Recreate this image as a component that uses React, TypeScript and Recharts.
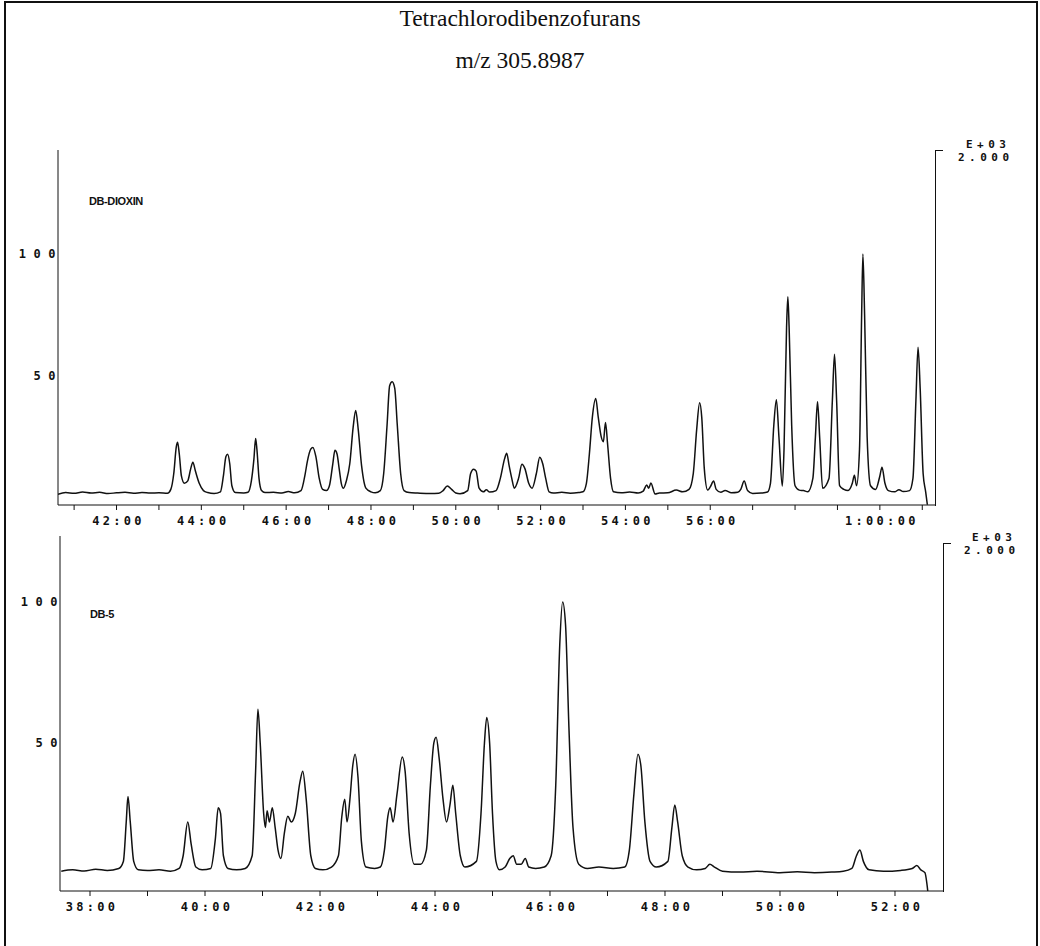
import { LineChart, Line, XAxis, YAxis } from 'recharts'

// retention time (min) / relative intensity
const dbDioxinTrace: [number, number][] = [
  [40.62, 1.5], [40.8, 2.2], [41.0, 1.9], [41.2, 2.4], [41.4, 2.0], [41.6, 2.3], [41.8, 1.8], [42.0, 2.1],
  [42.2, 2.3], [42.4, 1.9], [42.6, 2.2], [42.8, 2.0], [43.0, 2.1], [43.2, 1.9],
  [43.28, 3.5], [43.35, 10], [43.41, 21], [43.44, 22.8], [43.48, 18], [43.53, 9], [43.6, 6], [43.68, 7],
  [43.75, 12], [43.8, 14.6], [43.86, 11], [43.95, 6], [44.05, 3], [44.15, 2.2],
  [44.3, 1.8], [44.45, 2.5], [44.52, 9], [44.58, 17], [44.62, 17.9], [44.67, 14], [44.72, 5], [44.8, 2.2], [45.0, 2.0],
  [45.1, 2.3], [45.18, 7], [45.24, 16], [45.28, 24.4], [45.31, 20], [45.36, 8], [45.42, 3], [45.5, 2.2],
  [45.7, 2.3], [45.9, 2.0], [46.05, 2.6], [46.2, 2.1],
  [46.35, 3], [46.45, 10], [46.5, 15], [46.58, 20], [46.63, 20.7], [46.7, 17], [46.78, 8], [46.86, 3.5], [46.95, 3],
  [47.02, 5], [47.1, 14], [47.15, 19.5], [47.2, 18], [47.25, 12], [47.3, 6], [47.35, 4],
  [47.42, 7], [47.5, 14], [47.58, 29], [47.64, 35.8], [47.7, 28], [47.78, 13], [47.88, 4], [48.0, 2.5], [48.1, 2.1],
  [48.22, 3], [48.3, 10], [48.38, 30], [48.44, 46], [48.5, 47.6], [48.56, 45], [48.62, 30], [48.7, 10], [48.78, 3], [48.9, 2.2],
  [49.1, 2.0], [49.4, 1.8], [49.6, 1.9], [49.7, 3], [49.8, 4.9], [49.9, 3.5], [50.0, 2], [50.1, 1.7],
  [50.28, 3], [50.35, 10], [50.42, 11.8], [50.48, 11], [50.55, 4], [50.65, 2.5], [50.72, 3.3], [50.8, 2.4],
  [50.95, 3], [51.05, 8], [51.15, 16], [51.2, 18.3], [51.26, 13], [51.32, 8], [51.38, 4],
  [51.48, 8], [51.56, 13.8], [51.63, 12], [51.72, 6], [51.8, 4],
  [51.9, 10], [51.98, 16.7], [52.05, 14], [52.12, 8], [52.2, 2.5],
  [52.3, 2.0], [52.5, 2.3], [52.7, 1.9], [52.9, 2.2], [53.0, 2.5],
  [53.08, 6], [53.15, 18], [53.22, 33], [53.3, 40.7], [53.36, 33], [53.43, 25], [53.48, 23], [53.53, 30.9],
  [53.58, 22], [53.65, 8], [53.72, 2.5],
  [53.9, 2.1], [54.1, 2.4], [54.3, 2.0], [54.42, 2.8], [54.5, 5.3], [54.55, 4], [54.6, 6.1], [54.7, 1.6],
  [54.8, 2.0], [55.0, 2.1], [55.2, 3.2], [55.35, 2.5],
  [55.5, 3.5], [55.6, 10], [55.68, 28], [55.75, 39], [55.8, 33], [55.86, 12], [55.94, 3.2], [56.0, 4.5],
  [56.08, 6.9], [56.14, 3.5], [56.25, 2.3], [56.35, 3], [56.5, 2.1], [56.65, 2.3],
  [56.72, 3.5], [56.8, 6.9], [56.88, 3], [57.0, 1.8], [57.2, 2.0], [57.35, 2.4],
  [57.42, 6], [57.5, 30], [57.56, 40.2], [57.62, 25], [57.7, 4.9], [57.74, 20], [57.8, 70], [57.83, 82.5],
  [57.86, 70], [57.92, 30], [58.0, 5], [58.1, 3.2],
  [58.2, 3], [58.3, 2.5], [58.42, 8], [58.48, 25], [58.53, 39.4], [58.58, 25], [58.65, 4],
  [58.8, 8], [58.88, 40], [58.93, 58.9], [58.98, 40], [59.05, 5], [59.15, 3.5], [59.25, 3], [59.35, 6],
  [59.4, 9.3], [59.45, 5],
  [59.52, 20], [59.57, 75], [59.6, 100], [59.64, 75], [59.7, 25], [59.78, 5],
  [59.9, 3.5], [60.0, 9], [60.05, 12.6], [60.12, 6], [60.2, 3], [60.35, 2.5], [60.45, 3.4], [60.55, 2.6], [60.7, 3],
  [60.78, 8], [60.85, 40], [60.9, 61.8], [60.95, 45], [61.02, 10], [61.08, 2.5], [61.12, -2.8],
]

const db5Trace: [number, number][] = [
  [37.5, 4.5], [37.7, 5], [37.9, 4.6], [38.1, 5.2], [38.3, 4.8], [38.5, 5.5],
  [38.58, 8], [38.63, 22], [38.66, 31], [38.7, 22], [38.76, 8], [38.84, 5],
  [39.0, 4.8], [39.2, 5], [39.4, 4.5], [39.55, 5.5],
  [39.62, 10], [39.7, 22], [39.76, 14], [39.84, 6], [39.95, 5],
  [40.1, 5.5], [40.18, 16], [40.23, 27], [40.27, 25], [40.32, 10], [40.4, 5.5], [40.55, 5], [40.7, 5.5],
  [40.82, 10], [40.88, 40], [40.92, 62], [40.96, 50], [41.02, 25], [41.05, 20], [41.08, 26], [41.12, 22],
  [41.17, 27], [41.22, 20], [41.27, 12], [41.32, 9], [41.38, 18], [41.44, 24], [41.5, 22], [41.57, 25],
  [41.65, 36], [41.7, 40], [41.76, 30], [41.84, 10], [41.92, 5.5],
  [42.05, 5], [42.2, 6],
  [42.32, 10], [42.38, 24], [42.43, 30], [42.47, 22], [42.52, 30], [42.57, 42], [42.61, 46], [42.66, 38],
  [42.72, 15], [42.8, 6],
  [42.95, 5.5], [43.05, 6],
  [43.12, 12], [43.18, 24], [43.22, 27], [43.27, 22], [43.34, 32], [43.43, 45], [43.48, 40], [43.55, 18], [43.64, 7],
  [43.75, 7],
  [43.85, 12], [43.92, 35], [43.98, 50], [44.02, 52], [44.07, 45], [44.14, 30], [44.2, 22], [44.26, 28],
  [44.31, 35], [44.36, 25], [44.44, 10], [44.52, 6],
  [44.72, 8], [44.8, 25], [44.86, 50], [44.9, 59], [44.95, 50], [45.0, 25], [45.06, 8], [45.12, 5],
  [45.22, 6], [45.3, 9], [45.36, 10], [45.42, 7], [45.5, 7], [45.57, 9], [45.63, 6], [45.75, 5.5], [45.9, 6],
  [46.02, 10], [46.1, 35], [46.17, 85], [46.22, 100], [46.27, 92], [46.33, 55], [46.4, 20], [46.5, 7],
  [46.65, 5.5], [46.85, 6], [47.1, 5.5], [47.3, 6],
  [47.38, 12], [47.46, 32], [47.53, 46], [47.58, 42], [47.65, 22], [47.74, 8], [47.85, 6],
  [48.05, 8], [48.12, 20], [48.17, 28], [48.22, 22], [48.3, 10], [48.4, 6],
  [48.55, 5], [48.7, 5.5], [48.78, 7], [48.86, 6], [49.0, 4.5], [49.3, 4.2], [49.6, 4.5], [50.0, 4],
  [50.3, 4.3], [50.6, 4], [50.9, 4.2], [51.1, 4.5], [51.25, 5.5],
  [51.33, 10], [51.39, 12], [51.45, 8], [51.55, 5],
  [51.8, 4.5], [52.1, 4.8], [52.3, 5.5], [52.38, 6.5], [52.45, 5], [52.52, 4], [52.57, -2.5],
]

const topTicks = [41, 42, 43, 44, 45, 46, 47, 48, 49, 50, 51, 52, 53, 54, 55, 56, 57, 58, 59, 60, 61]
const topLabeled = [42, 44, 46, 48, 50, 52, 54, 56, 60]
const bottomTicks = [38, 39, 40, 41, 42, 43, 44, 45, 46, 47, 48, 49, 50, 51, 52]
const bottomLabeled = [38, 40, 42, 44, 46, 48, 50, 52]
const yTicks = [50, 100]

const toData = (trace: [number, number][]) => trace.map(([t, v]) => ({ t, v }))

const fmtTime = (m: number) =>
  m >= 60 ? `${Math.floor(m / 60)}:${String(m % 60).padStart(2, '0')}:00` : `${m}:00`

const plotterFont = { fontFamily: 'DejaVu Sans Mono', fontWeight: 700, fontSize: 12, fill: '#111' }

const makeXTick = (labeled: number[]) => (props: any) => {
  const { x, y, payload } = props
  if (!labeled.includes(payload.value)) return <g />
  return (
    <text x={x + 2} y={y + 13} textAnchor="middle" style={{ ...plotterFont, letterSpacing: 3.3 }}>
      {fmtTime(payload.value)}
    </text>
  )
}

const YTick = (props: any) => {
  const { x, y, payload } = props
  return (
    <text x={x + 5} y={y + 4} textAnchor="end" style={{ ...plotterFont, letterSpacing: 7.5 }}>
      {payload.value}
    </text>
  )
}

function ScaleNote({ left, top }: { left: number; top: number }) {
  const row = { height: 12, lineHeight: '12px', letterSpacing: 4.5, fontSize: 11 }
  return (
    <div style={{ position: 'absolute', left, top, ...plotterFont, color: '#111' }}>
      <div style={{ ...row, paddingLeft: 22 }}>E+03</div>
      <div style={{ ...row, paddingLeft: 14, marginTop: 1 }}>2.000</div>
    </div>
  )
}

function Bracket({ left, top, bottom }: { left: number; top: number; bottom: number }) {
  return (
    <div
      style={{
        position: 'absolute',
        left,
        top,
        width: 7,
        height: bottom - top,
        borderLeft: '1.5px solid #111',
        borderTop: '1.5px solid #111',
      }}
    />
  )
}

const panelLabel = {
  position: 'absolute' as const,
  fontFamily: 'Liberation Sans',
  fontWeight: 700,
  fontSize: 11,
  letterSpacing: -0.4,
  color: '#111',
}

const titleStyle = {
  position: 'absolute' as const,
  left: 0,
  width: 1040,
  textAlign: 'center' as const,
  fontFamily: 'Liberation Serif',
  fontSize: 23.5,
  color: '#111',
}

export default function App() {
  return (
    <div style={{ position: 'absolute', left: 0, top: 0, width: 1040, height: 946, background: '#fff', overflow: 'hidden' }}>
      <div
        style={{
          position: 'absolute',
          left: 4,
          top: 1,
          width: 1030,
          height: 980,
          borderLeft: '2px solid #111',
          borderRight: '2px solid #111',
          borderTop: '2px solid #111',
        }}
      />
      <div style={{ ...titleStyle, top: 5 }}>Tetrachlorodibenzofurans</div>
      <div style={{ ...titleStyle, top: 47 }}>m/z 305.8987</div>

      {/* DB-DIOXIN column */}
      <div style={{ position: 'absolute', left: 0, top: 0 }}>
        <LineChart width={1040} height={540} data={toData(dbDioxinTrace)} margin={{ top: 150, right: 105, bottom: 0, left: 0 }}>
          <XAxis
            type="number"
            dataKey="t"
            domain={[40.62, 61.3]}
            ticks={topTicks}
            interval={0}
            height={35}
            tickSize={5}
            tickMargin={2}
            stroke="#111"
            tick={makeXTick(topLabeled)}
            allowDataOverflow
          />
          <YAxis
            type="number"
            domain={[-2.9, 142.6]}
            ticks={yTicks}
            width={58}
            tickSize={0}
            tickMargin={0}
            stroke="#111"
            tick={YTick}
            allowDataOverflow
          />
          <Line type="monotone" dataKey="v" stroke="#111" strokeWidth={1.5} dot={false} isAnimationActive={false} />
        </LineChart>
      </div>
      <Bracket left={935} top={150} bottom={505} />
      <ScaleNote left={944} top={139} />
      <div style={{ ...panelLabel, left: 89, top: 195 }}>DB-DIOXIN</div>

      {/* DB-5 column */}
      <div style={{ position: 'absolute', left: 0, top: 500 }}>
        <LineChart width={1040} height={426} data={toData(db5Trace)} margin={{ top: 36, right: 97, bottom: 0, left: 0 }}>
          <XAxis
            type="number"
            dataKey="t"
            domain={[37.478, 52.835]}
            ticks={bottomTicks}
            interval={0}
            height={35}
            tickSize={5}
            tickMargin={2}
            stroke="#111"
            tick={makeXTick(bottomLabeled)}
            allowDataOverflow
          />
          <YAxis
            type="number"
            domain={[-2.5, 123.4]}
            ticks={yTicks}
            width={60}
            tickSize={0}
            tickMargin={0}
            stroke="#111"
            tick={YTick}
            allowDataOverflow
          />
          <Line type="monotone" dataKey="v" stroke="#111" strokeWidth={1.5} dot={false} isAnimationActive={false} />
        </LineChart>
      </div>
      <Bracket left={943} top={543} bottom={891} />
      <ScaleNote left={950} top={532} />
      <div style={{ ...panelLabel, left: 90, top: 608 }}>DB-5</div>
    </div>
  )
}
